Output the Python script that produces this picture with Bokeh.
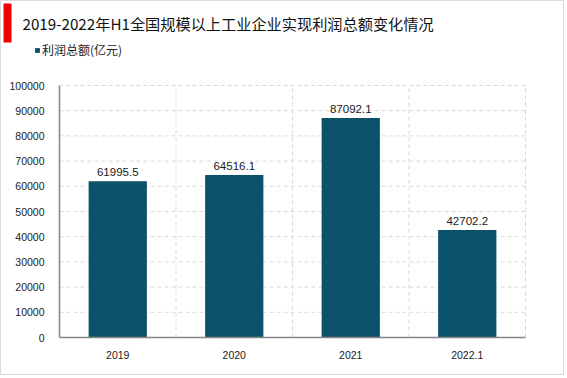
from bokeh.plotting import figure
from bokeh.models import (Range1d, FixedTicker, Label, Legend, LegendItem,
                          ColumnDataSource, LabelSet, BoxAnnotation)
from bokeh.core.properties import value
from bokeh.embed import file_html
from bokeh.resources import INLINE

categories = ["2019", "2020", "2021", "2022.1"]
profits = [61995.5, 64516.1, 87092.1, 42702.2]
y_ticks = [0, 10000, 20000, 30000, 40000, 50000, 60000, 70000, 80000, 90000, 100000]
y_max = 100000

BAR = "#0B5169"
GRID = "#d9d9d9"
NUM_FONT = "Liberation Sans"
CJK_FONT = "Noto Sans CJK SC"

# layout (pixels inside the canvas)
W, H = 564, 375
PLOT_L, PLOT_R, PLOT_T, PLOT_B = 59, 525, 85, 337

n = len(categories)
ux = (PLOT_R - PLOT_L) / n
uy = (PLOT_B - PLOT_T) / y_max
x_range = Range1d(-PLOT_L / ux, n + (W - PLOT_R) / ux)
y_range = Range1d(-(H - PLOT_B) / uy, y_max + PLOT_T / uy)


def px_x(px):
    return (px - PLOT_L) / ux


def px_y(py):
    return (PLOT_B - py) / uy


xs = [i + 0.5 for i in range(n)]
src = ColumnDataSource(dict(x=xs, top=profits, lbl=[f"{v:.1f}" for v in profits]))

p = figure(width=W, height=H, output_backend="svg", toolbar_location=None,
           x_range=x_range, y_range=y_range, min_border=0)
p.outline_line_color = "#dcdcdc"
p.background_fill_color = "white"
p.border_fill_color = "white"
p.xgrid.visible = False
p.ygrid.visible = False

# dashed grid inside the plot area
gy = y_ticks[1:]
p.segment(x0=[0] * len(gy), x1=[n] * len(gy), y0=gy, y1=gy,
          line_color=GRID, line_dash="4 3", line_width=1)
gx = list(range(1, n + 1))
p.segment(x0=gx, x1=gx, y0=[0] * len(gx), y1=[y_max] * len(gx),
          line_color=GRID, line_dash="4 3", line_width=1)

r = p.vbar(x="x", top="top", width=0.5, source=src, fill_color=BAR, line_color=None)

p.xaxis.ticker = FixedTicker(ticks=xs)
p.xaxis.major_label_overrides = {x: c for x, c in zip(xs, categories)}
p.xaxis.fixed_location = 0
p.xaxis.bounds = (0, n)
p.yaxis.ticker = FixedTicker(ticks=y_ticks)
p.yaxis.formatter.use_scientific = False
p.yaxis.fixed_location = 0
p.yaxis.bounds = (0, y_max)

for ax in (p.xaxis[0], p.yaxis[0]):
    ax.axis_line_color = "#858585"
    ax.axis_line_width = 1.5
    ax.major_tick_line_color = None
    ax.minor_tick_line_color = None
    ax.major_label_text_font = NUM_FONT
    ax.major_label_text_font_size = "10.5px"
    ax.major_label_text_color = "#1a1a1a"
p.xaxis.major_label_standoff = 7
p.yaxis.major_label_standoff = 9

labels = LabelSet(x="x", y="top", text="lbl", source=src, text_align="center",
                  text_baseline="bottom", y_offset=5, text_font=value(NUM_FONT),
                  text_font_size=value("11.5px"), text_color=value("#1a1a1a"))
p.add_layout(labels)

# title
title = Label(x=22, y=H - 22, x_units="screen", y_units="screen",
              text="2019-2022年H1全国规模以上工业企业实现利润总额变化情况",
              text_font=CJK_FONT, text_font_size="15.2px", text_color="#111111",
              text_baseline="middle", text_align="left")
p.add_layout(title)

# red accent bar (decoration, placed by pixel position)
p.add_layout(BoxAnnotation(left=px_x(3), right=px_x(11), top=px_y(3), bottom=px_y(42),
                           fill_color="#ee0000", fill_alpha=1, line_color=None))

legend = Legend(items=[LegendItem(label="利润总额(亿元)", renderers=[r])],
                location=(34, H - 58), orientation="horizontal",
                glyph_width=6, glyph_height=6, label_text_font=CJK_FONT,
                label_text_font_size="12px", label_text_color="#222222",
                padding=0, margin=0, spacing=0, label_standoff=2,
                label_height=14,
                border_line_color=None, background_fill_alpha=0)
p.add_layout(legend)

open("out.html", "w").write(file_html(p, INLINE))
